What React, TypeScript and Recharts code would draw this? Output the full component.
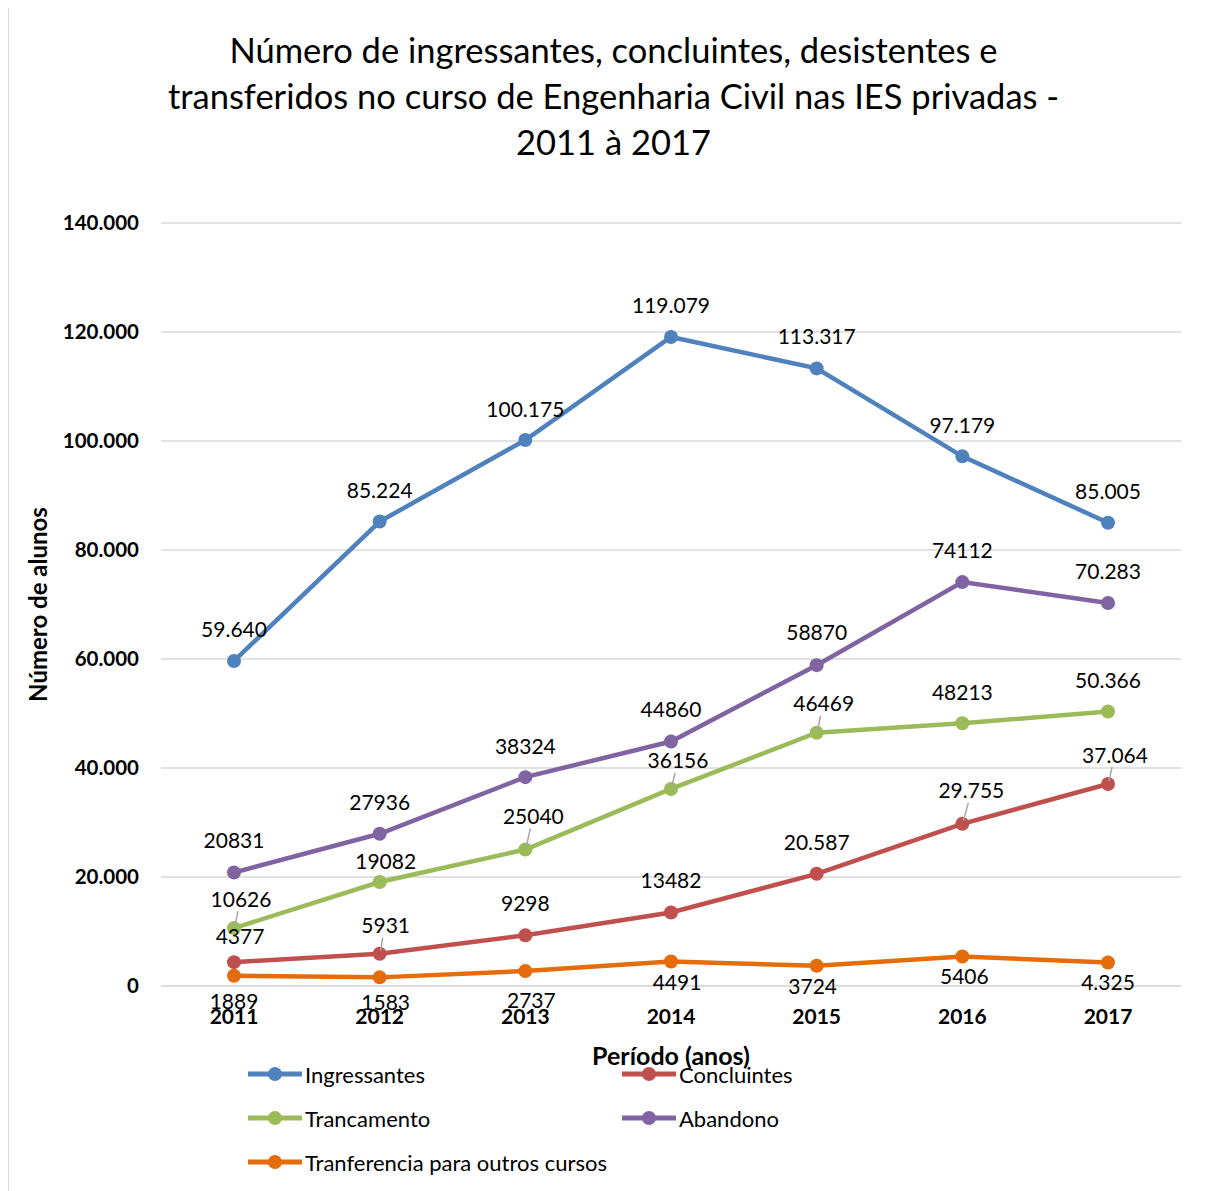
import { LineChart, Line, XAxis, YAxis, CartesianGrid, Legend, Label } from 'recharts';

const years = ['2011', '2012', '2013', '2014', '2015', '2016', '2017'];

const ingressantes = [59640, 85224, 100175, 119079, 113317, 97179, 85005];
const concluintes = [4377, 5931, 9298, 13482, 20587, 29755, 37064];
const trancamento = [10626, 19082, 25040, 36156, 46469, 48213, 50366];
const abandono = [20831, 27936, 38324, 44860, 58870, 74112, 70283];
const transferencia = [1889, 1583, 2737, 4491, 3724, 5406, 4325];

// labels exactly as printed on the chart (mixed formats)
const ingressantesLabels = ['59.640', '85.224', '100.175', '119.079', '113.317', '97.179', '85.005'];
const concluintesLabels = ['4377', '5931', '9298', '13482', '20.587', '29.755', '37.064'];
const trancamentoLabels = ['10626', '19082', '25040', '36156', '46469', '48213', '50.366'];
const abandonoLabels = ['20831', '27936', '38324', '44860', '58870', '74112', '70.283'];
const transferenciaLabels = ['1889', '1583', '2737', '4491', '3724', '5406', '4.325'];

const yTicks = [0, 20000, 40000, 60000, 80000, 100000, 120000, 140000];

const data = years.map((year, i) => ({
  year,
  ingressantes: ingressantes[i],
  concluintes: concluintes[i],
  trancamento: trancamento[i],
  abandono: abandono[i],
  transferencia: transferencia[i],
}));

// label placement (dx, dy from the point) and leader-line flags
const ingressantesPos = [[0, -32], [0, -32], [0, -32], [0, -33], [0, -33], [0, -32], [0, -32]];
const abandonoPos = [[0, -33], [0, -32], [0, -32], [0, -33], [0, -34], [0, -33], [0, -32]];
const trancamentoPos = [[7, -30], [6, -22], [8, -34], [7, -29], [7, -30], [0, -32], [0, -32]];
const concluintesPos = [[6, -27], [6, -29], [0, -33], [0, -33], [0, -32], [9, -34], [7, -30]];
const transferenciaPos = [[0, 25], [6, 24], [6, 28], [6, 20], [-4, 20], [2, 19], [0, 19]];
const trancamentoLeader = [true, false, true, true, true, false, false];
const concluintesLeader = [false, true, false, false, false, true, true];

const FONT = 'Lato, "Open Sans", sans-serif';

const fmt = (v: number) => (v === 0 ? '0' : String(v).replace(/\B(?=(\d{3})+(?!\d))/g, '.'));

const makeLabel = (labels: string[], pos: number[][], leader?: boolean[]) => (props: any) => {
  const { x, y, index } = props;
  const [dx, dy] = pos[index];
  return (
    <g key={'l' + index}>
      {leader && leader[index] && (
        <line x1={x + 1} y1={y - 3} x2={x + dx - 3} y2={y + dy + 13} stroke="#a6a6a6" strokeWidth={1.5} />
      )}
      <text x={x + dx} y={y + dy} textAnchor="middle" dominantBaseline="central" fontSize={21} fill="#000" fontFamily={FONT}>
        {labels[index]}
      </text>
    </g>
  );
};

const series = [
  { key: 'ingressantes', name: 'Ingressantes', color: '#4F81BD', label: makeLabel(ingressantesLabels, ingressantesPos) },
  { key: 'concluintes', name: 'Concluintes', color: '#C0504D', label: makeLabel(concluintesLabels, concluintesPos, concluintesLeader) },
  { key: 'trancamento', name: 'Trancamento', color: '#9BBB59', label: makeLabel(trancamentoLabels, trancamentoPos, trancamentoLeader) },
  { key: 'abandono', name: 'Abandono', color: '#8064A2', label: makeLabel(abandonoLabels, abandonoPos) },
  { key: 'transferencia', name: 'Tranferencia para outros cursos', color: '#E46C0A', label: makeLabel(transferenciaLabels, transferenciaPos) },
];

const LegendContent = () => {
  const cols = [238, 612];
  return (
    <div style={{ position: 'relative', width: 1208, height: 135, fontFamily: FONT, fontSize: 22 }}>
      {series.map((s, i) => (
        <div
          key={s.key}
          style={{ position: 'absolute', left: cols[i % 2], top: 18 + Math.floor(i / 2) * 44 - 13, height: 26, display: 'flex', alignItems: 'center', whiteSpace: 'nowrap' }}
        >
          <svg width={56} height={24}>
            <line x1={1} y1={12} x2={55} y2={12} stroke={s.color} strokeWidth={5} />
            <circle cx={28} cy={12} r={7} fill={s.color} />
          </svg>
          <span style={{ marginLeft: 2, color: '#000' }}>{s.name}</span>
        </div>
      ))}
    </div>
  );
};

const YTitle = (props: any) => {
  const { viewBox } = props;
  const cx = 28;
  const cy = viewBox.y + viewBox.height / 2;
  return (
    <text x={cx} y={cy} transform={`rotate(-90, ${cx}, ${cy})`} textAnchor="middle" dominantBaseline="central" fontSize={24} fontWeight="bold" fontFamily={FONT} fill="#000">
      Número de alunos
    </text>
  );
};

export default function App() {
  return (
    <div style={{ position: 'relative', width: 1208, height: 1190, marginTop: -2, borderLeft: '1px solid #d9d9d9', borderTop: '1px solid #d9d9d9', overflow: 'hidden', background: '#fff' }}>
      <div style={{ position: 'absolute', left: 0, top: 20, width: 1209, textAlign: 'center', fontFamily: FONT, fontSize: 34.5, lineHeight: '46px', color: '#000' }}>
        Número de ingressantes, concluintes, desistentes e
        <br />
        transferidos no curso de Engenharia Civil nas IES privadas -
        <br />
        2011 à 2017
      </div>
      <LineChart width={1208} height={1184} data={data} margin={{ top: 216, right: 36, bottom: 0, left: 0 }}>
        <CartesianGrid vertical={false} stroke="#d9d9d9" strokeWidth={1.5} />
        <XAxis
          dataKey="year"
          height={70}
          padding={{ left: 73, right: 73 }}
          axisLine={{ stroke: '#d9d9d9', strokeWidth: 1.5 }}
          tickLine={false}
          tickSize={0}
          tickMargin={23}
          tick={{ fontSize: 21, fontWeight: 'bold', fill: '#000', fontFamily: FONT }}
        >
          <Label value="Período (anos)" position="insideBottom" offset={-9} style={{ fontSize: 25, fontWeight: 'bold', fill: '#000', fontFamily: FONT }} />
        </XAxis>
        <YAxis
          width={152}
          domain={[0, 140000]}
          ticks={yTicks}
          tickFormatter={fmt}
          axisLine={false}
          tickLine={false}
          tickSize={0}
          tickMargin={22}
          tick={{ fontSize: 20.5, fontWeight: 'bold', fill: '#000', fontFamily: FONT }}
        >
          <Label content={<YTitle />} />
        </YAxis>
        <Legend verticalAlign="bottom" height={135} wrapperStyle={{ left: 0, bottom: 0, width: 1208 }} content={<LegendContent />} />
        {series.map((s) => (
          <Line
            key={s.key}
            dataKey={s.key}
            name={s.name}
            stroke={s.color}
            strokeWidth={4.5}
            dot={{ r: 7, fill: s.color, stroke: s.color, strokeWidth: 0 }}
            activeDot={false}
            label={s.label}
            isAnimationActive={false}
          />
        ))}
      </LineChart>
    </div>
  );
}
